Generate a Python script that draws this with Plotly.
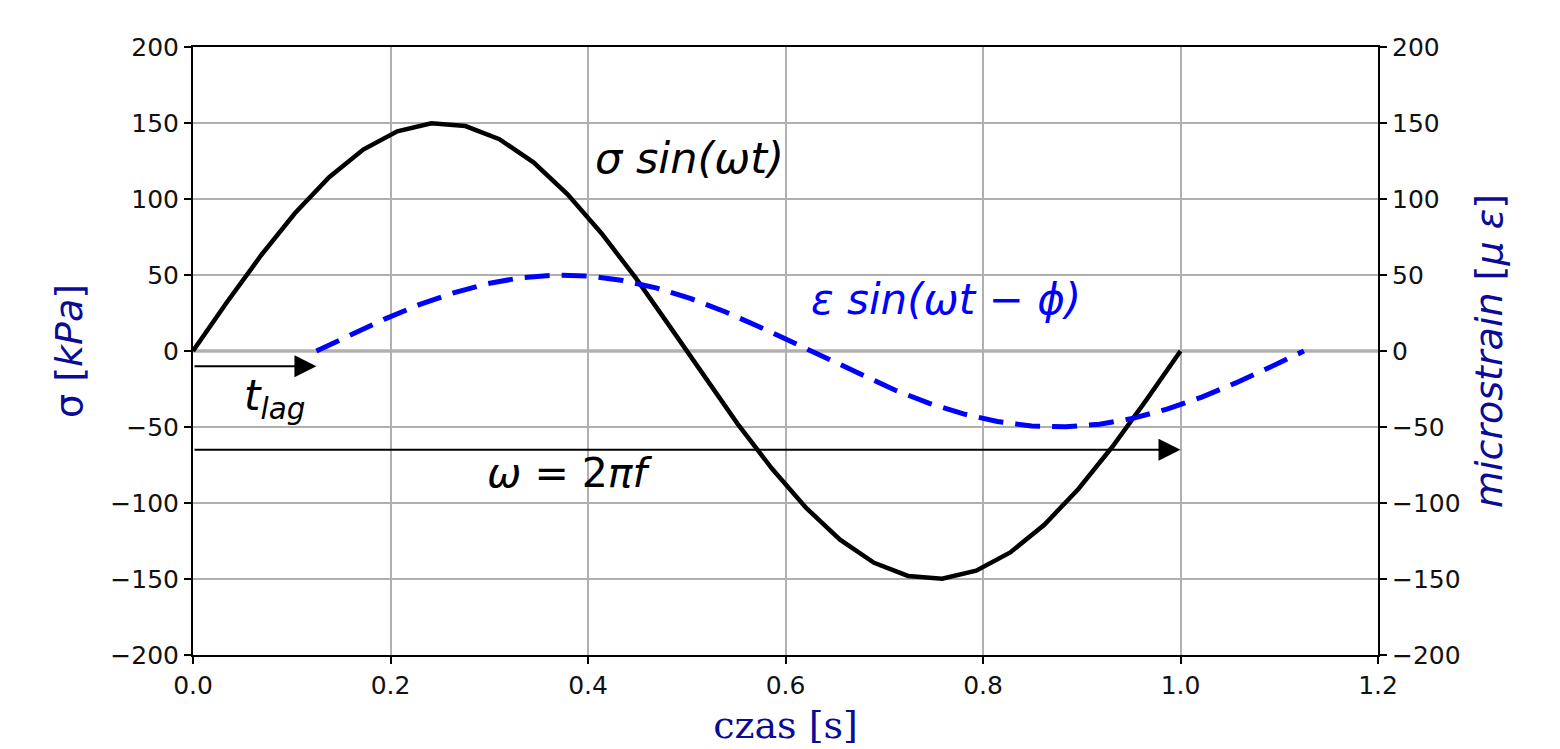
import plotly.graph_objects as go

# data
time_s = [0.0, 0.0345, 0.069, 0.1034, 0.1379, 0.1724, 0.2069, 0.2414, 0.2759, 0.3103,
          0.3448, 0.3793, 0.4138, 0.4483, 0.4828, 0.5172, 0.5517, 0.5862, 0.6207, 0.6552,
          0.6897, 0.7241, 0.7586, 0.7931, 0.8276, 0.8621, 0.8966, 0.931, 0.9655, 1.0]
stress_kpa = [0, 32.2, 63.0, 90.8, 114.3, 132.5, 144.5, 149.8, 148.0, 139.3,
              124.1, 103.1, 77.3, 48.1, 16.2, -16.2, -48.1, -77.3, -103.1, -124.1,
              -139.3, -148.0, -149.8, -144.5, -132.5, -114.3, -90.8, -63.0, -32.2, 0]
t_lag = 0.125
strain_time = [round(t + t_lag, 4) for t in time_s]
strain_ue = [0, 10.7, 21.0, 30.3, 38.1, 44.2, 48.2, 49.9, 49.3, 46.4,
             41.4, 34.4, 25.8, 16.0, 5.4, -5.4, -16.0, -25.8, -34.4, -41.4,
             -46.4, -49.3, -49.9, -48.2, -44.2, -38.1, -30.3, -21.0, -10.7, 0]
period_s = 1.0
x_ticks = [0.0, 0.2, 0.4, 0.6, 0.8, 1.0, 1.2]
y_ticks = [-200, -150, -100, -50, 0, 50, 100, 150, 200]
y_tick_text = [("\u2212" + str(-v)) if v < 0 else str(v) for v in y_ticks]

SANS = "DejaVu Sans"
TICKF = dict(family=SANS, size=25, color="#111")
LABC = "#0b0b96"

fig = go.Figure()
fig.add_trace(go.Scatter(x=time_s, y=stress_kpa, mode="lines",
                         line=dict(color="black", width=4.5), showlegend=False))
fig.add_trace(go.Scatter(x=strain_time, y=strain_ue, mode="lines", yaxis="y2",
                         line=dict(color="#0000ff", width=5, dash="25px,12px"),
                         showlegend=False))

fig.add_shape(type="line", xref="x", yref="y", x0=0, x1=1.2, y0=0, y1=0,
              line=dict(color="#8c8c8c", width=3), layer="below")

# arrows
for x_end, y_lvl in [(t_lag, -10), (period_s, -65)]:
    fig.add_annotation(x=x_end, y=y_lvl, ax=0, ay=y_lvl, xref="x", yref="y", axref="x", ayref="y",
                       showarrow=True, arrowhead=2, arrowsize=2.2, arrowwidth=2, arrowcolor="black",
                       text="")

fig.add_annotation(x=0.503, y=127, xref="x", yref="y", showarrow=False,
                   text="<i>σ sin(ωt)</i>", font=dict(family=SANS, size=43, color="black"))
fig.add_annotation(x=0.763, y=34, xref="x", yref="y", showarrow=False,
                   text="<i>ε sin(ωt \u2212 ϕ)</i>", font=dict(family=SANS, size=42, color="#0000ff"))
fig.add_annotation(x=0.083, y=-31, xref="x", yref="y", showarrow=False,
                   text="<i>t<sub>lag</sub></i>", font=dict(family=SANS, size=42, color="black"))
fig.add_annotation(x=0.382, y=-80, xref="x", yref="y", showarrow=False,
                   text="<i>ω</i> = 2<i>πf</i>", font=dict(family=SANS, size=41, color="black"))

axis_common = dict(showline=True, linecolor="black", linewidth=2, ticks="outside",
                   ticklen=7, tickwidth=1.5, tickcolor="black", tickfont=TICKF, zeroline=False)

fig.update_layout(
    width=1560, height=749,
    paper_bgcolor="white", plot_bgcolor="white",
    margin=dict(l=185, r=190, t=39, b=102),
    xaxis=dict(range=[0, 1.2], tickvals=x_ticks, ticktext=[f"{v:.1f}" for v in x_ticks],
               showgrid=True, gridcolor="#b0b0b0", gridwidth=1.5, mirror=True,
               title=dict(text="czas [s]", font=dict(family="DejaVu Serif", size=38, color=LABC),
                          standoff=12),
               **axis_common),
    yaxis=dict(range=[-200, 200], tickvals=y_ticks, ticktext=y_tick_text,
               showgrid=True, gridcolor="#b0b0b0", gridwidth=1.5,
               title=dict(text="σ [<i>kPa</i>]", font=dict(family=SANS, size=38, color=LABC),
                          standoff=16),
               **axis_common),
    yaxis2=dict(range=[-200, 200], tickvals=y_ticks, ticktext=y_tick_text,
                overlaying="y", side="right", showgrid=False,
                title=dict(text="<i>microstrain</i> [<i>μ ε</i>]",
                           font=dict(family=SANS, size=38, color=LABC), standoff=16),
                **axis_common),
)

fig.write_html("out.html")
